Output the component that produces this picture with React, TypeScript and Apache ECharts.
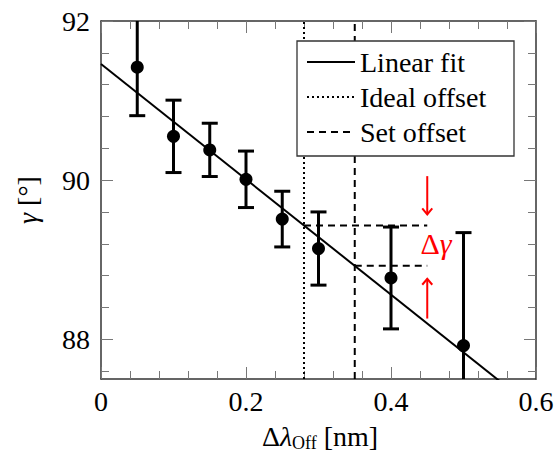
import React, { useEffect, useRef } from "react";
import * as echarts from "echarts";

// ---- data ----
const xValues = [0.05, 0.1, 0.15, 0.2, 0.25, 0.3, 0.4, 0.5];
const gammaValues = [91.42, 90.55, 90.38, 90.01, 89.51, 89.14, 88.77, 87.92];
const gammaErrors = [0.61, 0.455, 0.335, 0.355, 0.35, 0.46, 0.64, 1.42];
const fitIntercept = 91.46;
const fitSlope = -7.25;
const idealOffset = 0.28;
const setOffset = 0.35;
const markerX = 0.45;
const xRange = [0, 0.6];
const yRange = [87.5, 92];
const xInterval = 0.2;
const yMajorTicks = [88, 90, 92];
const yMinorTicks = [87.6, 88.4, 88.8, 89.2, 89.6, 90.4, 90.8, 91.2, 91.6];
const arrowDown = [90.05, 89.57];
const arrowUp = [88.26, 88.76];
const deltaGammaPos = [0.462, 89.2];
const legendNames = ["Linear fit", "Ideal offset", "Set offset"];

const fit = (x: number) => fitIntercept + fitSlope * x;

export default function App() {
  const ref = useRef<HTMLDivElement>(null);
  useEffect(() => {
    if (!ref.current) return;
    document.body.style.margin = "0";
    const chart = echarts.init(ref.current, undefined, { renderer: "svg" });

    const axisLineStyle = { color: "#333", width: 1.5 };
    const tickStyle = { color: "#777", width: 1 };

    const xAxisBase = (pos: "bottom" | "top", labels: boolean) => ({
      type: "value",
      position: pos,
      min: xRange[0],
      max: xRange[1],
      interval: xInterval,
      axisLine: { show: true, onZero: false, lineStyle: { ...axisLineStyle } },
      axisTick: { show: true, inside: true, length: 12, lineStyle: { ...tickStyle } },
      minorTick: { show: true, splitNumber: 5, length: 8, lineStyle: { ...tickStyle } },
      splitLine: { show: false },
      minorSplitLine: { show: false },
      axisLabel: {
        show: labels,
        margin: 8,
        fontSize: 28,
        fontFamily: "Liberation Serif",
        color: "#000",
      },
    });

    const yAxisBase = (pos: "left" | "right", major: boolean, labels: boolean) => ({
      type: "value",
      position: pos,
      min: yRange[0],
      max: yRange[1],
      axisLine: { show: major, onZero: false, lineStyle: { ...axisLineStyle } },
      axisTick: {
        show: true,
        inside: true,
        length: major ? 12 : 8,
        customValues: major ? yMajorTicks : yMinorTicks,
        lineStyle: { ...tickStyle },
      },
      splitLine: { show: false },
      axisLabel: {
        show: labels,
        margin: 11,
        customValues: yMajorTicks,
        fontSize: 28,
        fontFamily: "Liberation Serif",
        color: "#000",
      },
    });

    const errorData = xValues.map((x, i) => [
      x,
      gammaValues[i] - gammaErrors[i],
      gammaValues[i] + gammaErrors[i],
    ]);
    const pointData = xValues.map((x, i) => [x, gammaValues[i]]);
    const fitLine = [
      [xRange[0], fit(xRange[0])],
      [xRange[1], fit(xRange[1])],
    ];

    const dashed = () => ({ color: "#000", width: 2, type: [7, 5] });
    const dotted = () => ({ color: "#000", width: 2, type: [2, 3] });

    chart.setOption({
      animation: false,
      grid: { left: 101, right: 21, top: 21, bottom: 82 },
      xAxis: [xAxisBase("bottom", true), xAxisBase("top", false)],
      yAxis: [
        yAxisBase("left", true, true),
        yAxisBase("left", false, false),
        yAxisBase("right", true, false),
        yAxisBase("right", false, false),
      ],
      legend: {
        data: legendNames,
        orient: "vertical",
        left: 297,
        top: 41,
        padding: [6, 14, 9, 9],
        itemGap: 5,
        itemWidth: 48,
        itemHeight: 2,
        selectedMode: false,
        backgroundColor: "#fff",
        borderColor: "#333",
        borderWidth: 1.3,
        borderRadius: 0,
        itemStyle: { color: "rgba(0,0,0,0)", borderWidth: 0, opacity: 0 },
        textStyle: {
          fontSize: 28,
          fontFamily: "Liberation Serif",
          color: "#000",
          lineHeight: 30,
          width: 140,
        },
      },
      graphic: [
        {
          type: "text",
          x: 320,
          y: 436,
          style: {
            text: "{a|Δ}{i|λ}{s|Off}{a| [nm]}",
            fontSize: 28,
            fontFamily: "Liberation Serif",
            align: "center",
            verticalAlign: "middle",
            fill: "#000",
            rich: {
              a: { fontSize: 28, fontFamily: "Liberation Serif", lineHeight: 32 },
              i: { fontSize: 28, fontFamily: "Liberation Serif", fontStyle: "italic", lineHeight: 32 },
              s: { fontSize: 18, fontFamily: "Liberation Serif", lineHeight: 19, verticalAlign: "bottom" },
            },
          },
        },
        {
          type: "text",
          x: 27,
          y: 200,
          rotation: Math.PI / 2,
          style: {
            text: "{i|γ} {a|[°]}",
            fontSize: 28,
            fontFamily: "Liberation Serif",
            align: "center",
            verticalAlign: "middle",
            fill: "#000",
            rich: {
              a: { fontSize: 28, fontFamily: "Liberation Serif" },
              i: { fontSize: 28, fontFamily: "Liberation Serif", fontStyle: "italic" },
            },
          },
        },
      ],
      series: [
        {
          name: "Linear fit",
          type: "line",
          data: fitLine,
          symbol: "none",
          lineStyle: { color: "#000", width: 2 },
          itemStyle: { color: "#000" },
          z: 3,
        },
        {
          name: "Ideal offset",
          type: "line",
          data: [
            [idealOffset, yRange[0]],
            [idealOffset, yRange[1]],
          ],
          symbol: "none",
          lineStyle: dotted(),
          itemStyle: { color: "#000" },
        },
        {
          name: "Set offset",
          type: "line",
          data: [
            [setOffset, yRange[0]],
            [setOffset, yRange[1]],
          ],
          symbol: "none",
          lineStyle: dashed(),
          itemStyle: { color: "#000" },
        },
        {
          name: "idealLevel",
          type: "line",
          data: [
            [idealOffset, fit(idealOffset)],
            [markerX, fit(idealOffset)],
          ],
          symbol: "none",
          lineStyle: dashed(),
        },
        {
          name: "setLevel",
          type: "line",
          data: [
            [setOffset, fit(setOffset)],
            [markerX, fit(setOffset)],
          ],
          symbol: "none",
          lineStyle: dashed(),
        },
        {
          name: "errors",
          type: "custom",
          clip: true,
          data: errorData,
          encode: { x: 0, y: [1, 2] },
          z: 4,
          renderItem: (params: any, api: any) => {
            const x = api.value(0);
            const top = api.coord([x, api.value(2)]);
            const bot = api.coord([x, api.value(1)]);
            const hw = 8;
            const st = { stroke: "#000", lineWidth: 3 };
            return {
              type: "group",
              children: [
                { type: "line", shape: { x1: top[0], y1: top[1], x2: bot[0], y2: bot[1] }, style: st },
                { type: "line", shape: { x1: top[0] - hw, y1: top[1], x2: top[0] + hw, y2: top[1] }, style: st },
                { type: "line", shape: { x1: bot[0] - hw, y1: bot[1], x2: bot[0] + hw, y2: bot[1] }, style: st },
              ],
            };
          },
        },
        {
          name: "points",
          type: "scatter",
          data: pointData,
          symbol: "circle",
          symbolSize: 13,
          itemStyle: { color: "#000", opacity: 1 },
          z: 5,
        },
        {
          name: "arrows",
          type: "custom",
          data: [
            [markerX, arrowDown[0], arrowDown[1]],
            [markerX, arrowUp[0], arrowUp[1]],
          ],
          encode: { x: 0, y: [1, 2] },
          z: 5,
          renderItem: (params: any, api: any) => {
            const x = api.value(0);
            const s = api.coord([x, api.value(1)]);
            const t = api.coord([x, api.value(2)]);
            const dir = t[1] > s[1] ? 1 : -1;
            const st = { stroke: "#f00", lineWidth: 2, fill: "none" };
            return {
              type: "group",
              children: [
                { type: "line", shape: { x1: s[0], y1: s[1], x2: t[0], y2: t[1] }, style: st },
                {
                  type: "polyline",
                  shape: {
                    points: [
                      [t[0] - 5, t[1] - dir * 6],
                      [t[0], t[1]],
                      [t[0] + 5, t[1] - dir * 6],
                    ],
                  },
                  style: st,
                },
              ],
            };
          },
        },
        {
          name: "deltaGamma",
          type: "custom",
          data: [deltaGammaPos],
          encode: { x: 0, y: 1 },
          z: 5,
          renderItem: (params: any, api: any) => {
            const p = api.coord([api.value(0), api.value(1)]);
            return {
              type: "text",
              x: p[0],
              y: p[1],
              style: {
                text: "{a|Δ}{i|γ}",
                fontSize: 30,
                fontFamily: "Liberation Serif",
                align: "center",
                verticalAlign: "middle",
                fill: "#f00",
                rich: {
                  a: { fontSize: 30, fontFamily: "Liberation Serif" },
                  i: { fontSize: 30, fontFamily: "Liberation Serif", fontStyle: "italic" },
                },
              },
            };
          },
        },
      ],
    });
    return () => chart.dispose();
  }, []);

  return <div ref={ref} style={{ width: 557, height: 461, background: "#fff" }} />;
}
